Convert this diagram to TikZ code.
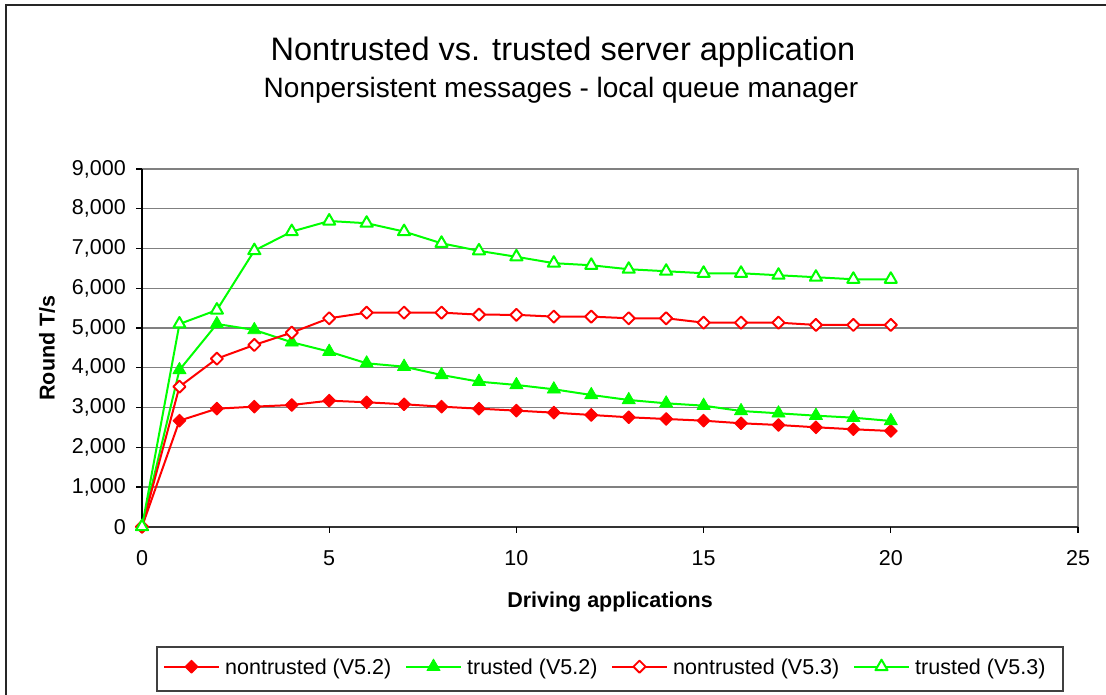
\documentclass[tikz,border=0pt]{standalone}
\usepackage{fontspec}
\setmainfont{Liberation Sans}
\usetikzlibrary{plotmarks}
\definecolor{gridgray}{RGB}{128,128,128}
\definecolor{pure red}{RGB}{255,0,0}
\definecolor{pure green}{RGB}{0,255,0}
\begin{document}
\begin{tikzpicture}[x=1pt,y=-1pt,
  ticklabel/.style={font=\fontsize{21.5}{24}\selectfont, inner sep=0pt},
  axistitle/.style={font=\fontsize{21.5}{24}\selectfont\bfseries, inner sep=0pt},
  legendtext/.style={font=\fontsize{21.5}{24}\selectfont, inner sep=0pt, anchor=base west},
  gridline/.style={draw=gridgray, line width=1.2pt},
  frameline/.style={draw=gridgray, line width=2pt},
  series/.style={line width=2pt, line join=round},
  redfilled/.style={series, draw=pure red, mark=square*, mark size=4.5pt,
    mark options={rotate=45, fill=pure red, draw=pure red, line width=1pt}},
  greenfilled/.style={series, draw=pure green, mark=triangle*, mark size=7.6pt,
    mark options={fill=pure green, draw=pure green, line width=0.8pt, line join=round}},
  redopen/.style={series, draw=pure red, mark=square*, mark size=4.3pt,
    mark options={rotate=45, fill=white, draw=pure red, line width=1.9pt}},
  greenopen/.style={series, draw=pure green, mark=triangle*, mark size=7pt,
    mark options={fill=white, draw=pure green, line width=2pt, line join=round}},
]
\useasboundingbox (0,0) rectangle (1106,695);
\fill[white] (0,0) rectangle (1106,695);

% outer chart frame (runs off the right and bottom edges)
\draw[line width=1.6pt, black!85] (6,702) -- (6,5) -- (1112,5);

% titles
\node[font=\fontsize{32.5}{36}\selectfont, anchor=base, inner sep=0pt] (title) at (563,61)
  {Nontrusted vs. trusted server application};
\node[font=\fontsize{28}{31}\selectfont, anchor=base, inner sep=0pt] (subtitle) at (561,98)
  {Nonpersistent messages - local queue manager};

% axis titles
\node[axistitle, rotate=90] (ytitle) at (47,348) {Round T/s};
\node[axistitle, anchor=base] (xtitle) at (610,607) {Driving applications};

% plot area in data coordinates (values grow upwards)
\begin{scope}[shift={(142,526.7)}, x=37.44pt, y=0.039744pt]
  \foreach \v in {1000,2000,...,8000}
    \draw[gridline] (0,\v) -- (25,\v);
  \draw[frameline] (0,9000) -- (25,9000) -- (25,0);
  % axes with tick marks
  \draw[line width=2pt, black!80] (0,0) -- (25,0);
  \draw[line width=2pt, black] (0,0) -- (0,9000);
  \foreach \v in {0,1000,...,9000}
    \draw[line width=1.2pt, black] (0,\v) -- ++(-6pt,0);
  \foreach \x in {5,10,...,25}
    \draw[line width=1.2pt, black] (\x,0) -- ++(0,-6pt);
  % tick labels
  \foreach \v/\t in {0/0, 1000/{1,000}, 2000/{2,000}, 3000/{3,000}, 4000/{4,000},
                    5000/{5,000}, 6000/{6,000}, 7000/{7,000}, 8000/{8,000}, 9000/{9,000}}
    \node[ticklabel, anchor=east, xshift=-16pt] (ylab\v) at (0,\v) {\t};
  \foreach \x in {0,5,...,25}
    \node[ticklabel, anchor=base, yshift=-38.3pt] (xlab\x) at (\x,0) {\x};

  % data series
  \draw[redfilled] plot coordinates {(0,0) (1,2667) (2,2969) (3,3020) (4,3062) (5,3171)
    (6,3130) (7,3080) (8,3020) (9,2969) (10,2920) (11,2869) (12,2811) (13,2753)
    (14,2710) (15,2667) (16,2602) (17,2559) (18,2501) (19,2451) (20,2408)};
  \draw[greenfilled] plot coordinates {(0,0) (1,3943) (2,5100) (3,4950) (4,4640) (5,4404)
    (6,4111) (7,4026) (8,3817) (9,3649) (10,3566) (11,3457) (12,3314) (13,3188)
    (14,3104) (15,3045) (16,2911) (17,2853) (18,2793) (19,2743) (20,2660)};
  \draw[redopen] plot coordinates {(0,0) (1,3523) (2,4228) (3,4572) (4,4882) (5,5244)
    (6,5385) (7,5385) (8,5385) (9,5335) (10,5330) (11,5285) (12,5285) (13,5244)
    (14,5244) (15,5133) (16,5133) (17,5133) (18,5076) (19,5076) (20,5076)};
  \draw[greenopen] plot coordinates {(0,0) (1,5100) (2,5450) (3,6945) (4,7425) (5,7690)
    (6,7635) (7,7425) (8,7130) (9,6940) (10,6790) (11,6630) (12,6577) (13,6477)
    (14,6427) (15,6376) (16,6376) (17,6326) (18,6276) (19,6225) (20,6225)};
\end{scope}

% legend
\draw[line width=1.4pt, black!75, fill=white] (157,647) rectangle (1063,691);
\draw[redfilled, mark indices={2}] plot coordinates {(164,666.7) (191.5,666.7) (219,666.7)};
\node[legendtext] (leg1) at (225,674) {nontrusted (V5.2)};
\draw[greenfilled, mark indices={2}] plot coordinates {(406,666.7) (433.5,666.7) (461,666.7)};
\node[legendtext] (leg2) at (467,674) {trusted (V5.2)};
\draw[redopen, mark indices={2}] plot coordinates {(612,666.7) (639.5,666.7) (667,666.7)};
\node[legendtext] (leg3) at (673,674) {nontrusted (V5.3)};
\draw[greenopen, mark indices={2}] plot coordinates {(854,666.7) (881.5,666.7) (909,666.7)};
\node[legendtext] (leg4) at (915,674) {trusted (V5.3)};
\end{tikzpicture}
\end{document}
